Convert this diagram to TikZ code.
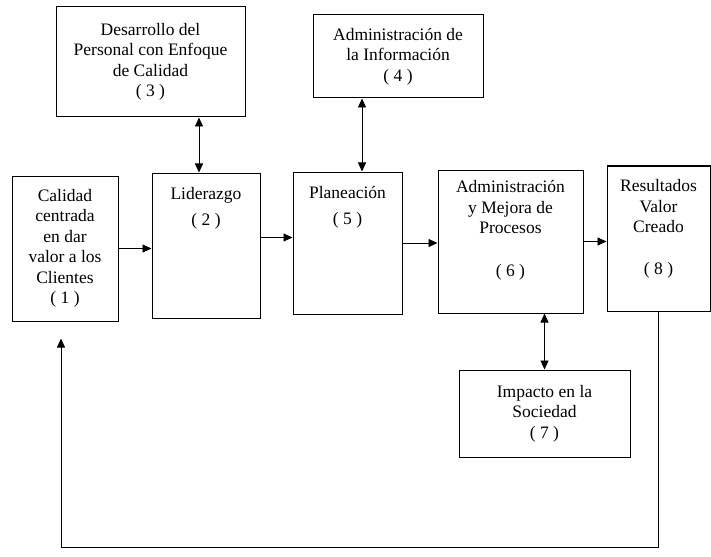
\documentclass[tikz,border=0pt]{standalone}
\usepackage{fontspec}
\setmainfont{Liberation Serif}
\usepackage{tikz}
\usetikzlibrary{arrows.meta,positioning}

\tikzset{
  caja/.style 2 args={draw,line width=1pt,minimum width=#1,minimum height=#2,
    inner sep=0pt,align=center},
  rotulo/.style={align=center,inner sep=0pt,anchor=north},
  flecha/.style={-{Triangle[length=9pt,width=8pt]},line width=0.9pt},
  doble/.style={{Triangle[length=9pt,width=8pt]}-{Triangle[length=9pt,width=8pt]},line width=0.9pt}
}

\begin{document}
\begin{tikzpicture}[x=1pt,y=-1pt,font=\fontsize{17.5}{20.5}\selectfont]
  \useasboundingbox (0,0) rectangle (711,556);
  % top boxes
  \node[caja={189pt}{110pt}] (b3) at (150.5,62)
    {Desarrollo del\\Personal con Enfoque\\de Calidad\\( 3 )};
  \node[caja={170pt}{83pt}] (b4) at (398,56.5)
    {Administración de\\la Información\\( 4 )};
  % main row
  \node[caja={106pt}{145pt}] (b1) at (65,248.5)
    {Calidad\\centrada\\en dar\\valor a los\\Clientes\\( 1 )};
  \node[caja={108pt}{145pt}] (b2) at (206,245.5) {};
  \node[rotulo] (t2) at ([yshift=-15pt]b2.north) {Liderazgo\\[5pt]( 2 )};
  \node[caja={109pt}{142pt}] (b5) at (347.5,243) {};
  \node[rotulo] (t5) at ([yshift=-15pt]b5.north) {Planeación\\[5pt]( 5 )};
  \node[caja={145pt}{143pt}] (b6) at (510.5,241.5) {};
  \node[rotulo] (t6) at ([yshift=-11pt]b6.north)
    {Administración\\y Mejora de\\Procesos\\[22pt]( 6 )};
  \node[caja={103pt}{145pt}] (b8) at (658.5,238.5) {};
  \node[rotulo] (t8) at ([yshift=-14pt]b8.north)
    {Resultados\\Valor\\Creado\\[21pt]( 8 )};
  % bottom box
  \node[caja={171pt}{87pt}] (b7) at (544.5,413.5)
    {Impacto en la\\Sociedad\\( 7 )};
  % connectors
  \draw[flecha] (b1.east) -- (b1.east -| b2.west);
  \draw[flecha] ([yshift=8pt]b2.east) -- ([yshift=8pt]b2.east -| b5.west);
  \draw[flecha] (b5.east) -- (b5.east -| b6.west);
  \draw[flecha] (b6.east) -- (b6.east -| b8.west);
  \draw[doble] (b3.south -| 199,0) -- (b2.north -| 199,0);
  \draw[doble] (b4.south -| 362,0) -- (b5.north -| 362,0);
  \draw[doble] (b6.south -| b7.north) -- (b7.north);
  % return line
  \coordinate (retorno) at ([xshift=-4pt,yshift=-17pt]b1.south);
  \coordinate (esquina) at (61,547);
  \draw[flecha] (b8.south) |- (esquina) -- (retorno);
\end{tikzpicture}
\end{document}
